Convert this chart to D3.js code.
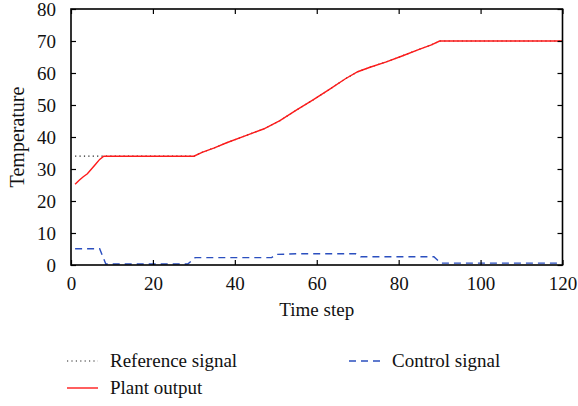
<!DOCTYPE html>
<html>
<head>
<meta charset="utf-8">
<script src="https://cdn.jsdelivr.net/npm/d3@7"></script>
<style>
  body { margin: 0; background: #fff; }
  svg { display: block; }
</style>
</head>
<body>
<script>
// chart data
const refSteps = [1, 8, 30, 32, 35, 38, 43, 47, 51, 55, 59, 63, 67, 70, 73, 77, 81, 85, 88, 90, 120];
const refValues = [34, 34, 34, 35.2, 36.6, 38.2, 40.6, 42.5, 45.1, 48.4, 51.5, 54.8, 58.2, 60.4, 61.8, 63.5, 65.4, 67.4, 68.8, 70, 70];

const plantSteps = [1, 2, 3, 4, 5, 6, 7, 8, 30, 32, 35, 38, 43, 47, 51, 55, 59, 63, 67, 70, 73, 77, 81, 85, 88, 90, 120];
const plantValues = [25.2, 26.5, 27.6, 28.5, 30, 31.5, 33, 34, 34, 35.2, 36.6, 38.2, 40.6, 42.5, 45.1, 48.4, 51.5, 54.8, 58.2, 60.4, 61.8, 63.5, 65.4, 67.4, 68.8, 70, 70];

const controlSteps = [1, 7, 8.5, 28.5, 30.3, 49, 50, 55, 69.5, 70.7, 88.6, 90.3, 120];
const controlValues = [5.1, 5.1, 0.3, 0.3, 2.3, 2.3, 3.3, 3.5, 3.5, 2.6, 2.6, 0.6, 0.6];

const xTicks = [0, 20, 40, 60, 80, 100, 120];
const yTicks = [0, 10, 20, 30, 40, 50, 60, 70, 80];

const legendItems = [
  { name: "Reference signal", color: "#222", dash: "1.2,3.2", width: 1.2, col: 0, row: 0 },
  { name: "Control signal", color: "#2b4fbf", dash: "7,5", width: 1.4, col: 1, row: 0 },
  { name: "Plant output", color: "#ff1a1a", dash: null, width: 1.4, col: 0, row: 1 }
];

const FONT = "'Liberation Serif', serif";

function chart() {
  const width = 578;
  const height = 406;
  const margin = { top: 9, right: 15.5, bottom: 141, left: 71 };

  const x = d3.scaleLinear().domain([0, 120]).range([margin.left, width - margin.right]);
  const y = d3.scaleLinear().domain([0, 80]).range([height - margin.bottom, margin.top]);

  const svg = d3.create("svg")
      .attr("width", width)
      .attr("height", height)
      .style("font-family", FONT);

  const line = d3.line()
      .x(d => x(d[0]))
      .y(d => y(d[1]));

  const zip = (a, b) => a.map((v, i) => [v, b[i]]);

  // reference (dotted), underneath the plant output
  svg.append("path")
      .datum(zip(refSteps, refValues))
      .attr("fill", "none")
      .attr("stroke", "#222")
      .attr("stroke-width", 1.2)
      .attr("stroke-dasharray", "1.2,3.2")
      .attr("d", line);

  svg.append("path")
      .datum(zip(controlSteps, controlValues))
      .attr("fill", "none")
      .attr("stroke", "#2b4fbf")
      .attr("stroke-width", 1.4)
      .attr("stroke-dasharray", "7,5")
      .attr("d", line);

  svg.append("path")
      .datum(zip(plantSteps, plantValues))
      .attr("fill", "none")
      .attr("stroke", "#ff1a1a")
      .attr("stroke-width", 1.4)
      .attr("d", line);

  // axes with inward ticks on all four sides
  const tickLen = 5;
  const styleAxis = g => {
    g.attr("font-family", null).attr("font-size", null);
    g.select(".domain").remove();
    g.selectAll("line").attr("stroke", "#000").attr("stroke-width", 1.2);
    g.selectAll("text")
      .attr("fill", "#111")
      .style("font-family", FONT)
      .style("font-size", "19px");
  };

  svg.append("g")
      .attr("transform", `translate(0,${y(0)})`)
      .call(d3.axisBottom(x).tickValues(xTicks).tickSizeInner(-tickLen).tickSizeOuter(0).tickPadding(12))
      .call(styleAxis);

  svg.append("g")
      .attr("transform", `translate(0,${y(80)})`)
      .call(d3.axisTop(x).tickValues(xTicks).tickSizeInner(-tickLen).tickSizeOuter(0).tickFormat(""))
      .call(styleAxis);

  svg.append("g")
      .attr("transform", `translate(${x(0)},0)`)
      .call(d3.axisLeft(y).tickValues(yTicks).tickSizeInner(-tickLen).tickSizeOuter(0).tickPadding(15))
      .call(styleAxis);

  svg.append("g")
      .attr("transform", `translate(${x(120)},0)`)
      .call(d3.axisRight(y).tickValues(yTicks).tickSizeInner(-tickLen).tickSizeOuter(0).tickFormat(""))
      .call(styleAxis);

  svg.append("rect")
      .attr("x", x(0))
      .attr("y", y(80))
      .attr("width", x(120) - x(0))
      .attr("height", y(0) - y(80))
      .attr("fill", "none")
      .attr("stroke", "#000")
      .attr("stroke-width", 1.6);

  svg.append("text")
      .attr("x", (x(0) + x(120)) / 2)
      .attr("y", 316)
      .attr("text-anchor", "middle")
      .style("font-size", "19px")
      .attr("fill", "#111")
      .text("Time step");

  svg.append("text")
      .attr("transform", `translate(24,${(y(0) + y(80)) / 2}) rotate(-90)`)
      .attr("text-anchor", "middle")
      .style("font-size", "20px")
      .attr("fill", "#111")
      .text("Temperature");

  // legend
  const legend = svg.append("g")
    .selectAll("g")
    .data(legendItems)
    .join("g")
      .attr("transform", d => `translate(${d.col ? 349 : 67},${361 + d.row * 27})`);

  legend.append("line")
      .attr("x1", 0)
      .attr("x2", 31)
      .attr("stroke", d => d.color)
      .attr("stroke-width", d => d.width)
      .attr("stroke-dasharray", d => d.dash);

  legend.append("text")
      .attr("x", 43)
      .attr("y", 6)
      .style("font-size", "19px")
      .attr("fill", "#111")
      .text(d => d.name);

  return svg.node();
}

document.body.appendChild(chart());
</script>
</body>
</html>
